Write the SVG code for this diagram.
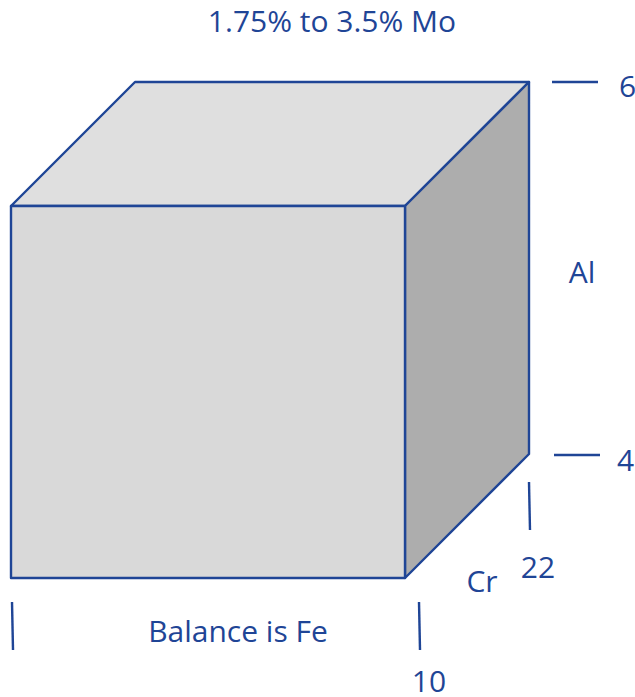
<svg xmlns="http://www.w3.org/2000/svg" width="635" height="697" viewBox="0 0 635 697">
<style>
.e{stroke:#1f4596;stroke-width:2.4;stroke-linejoin:round}
.l{stroke:#1f4596;stroke-width:2.4;fill:none}
text{font-family:"Open Sans","Noto Sans",sans-serif;font-size:30px;font-weight:500;fill:#1f4596}
</style>
<rect width="635" height="697" fill="#fff"/>
<g id="cube">
<polygon class="e" fill="#dfdfdf" points="11,206 135,82 529,82 405,206"/>
<polygon class="e" fill="#adadad" points="405,206 529,82 529,454 405,578"/>
<rect class="e" fill="#d9d9d9" x="11" y="206" width="394" height="372"/>
</g>
<g id="connectors">
<line class="l" x1="552" y1="82" x2="598" y2="82"/>
<line class="l" x1="554" y1="455" x2="600" y2="455"/>
<line class="l" x1="529" y1="482" x2="530" y2="530"/>
<line class="l" x1="419" y1="602" x2="420" y2="650"/>
<line class="l" x1="12" y1="602" x2="13" y2="650"/>
</g>
<g id="labels">
<text x="332" y="32" text-anchor="middle">1.75% to 3.5% Mo</text>
<text x="619" y="97">6</text>
<text x="582" y="283" text-anchor="middle">Al</text>
<text x="617" y="471">4</text>
<text x="538" y="578" text-anchor="middle">22</text>
<text x="482" y="592" text-anchor="middle">Cr</text>
<text x="238" y="642" text-anchor="middle">Balance is Fe</text>
<text x="429" y="692" text-anchor="middle">10</text>
</g>
</svg>
